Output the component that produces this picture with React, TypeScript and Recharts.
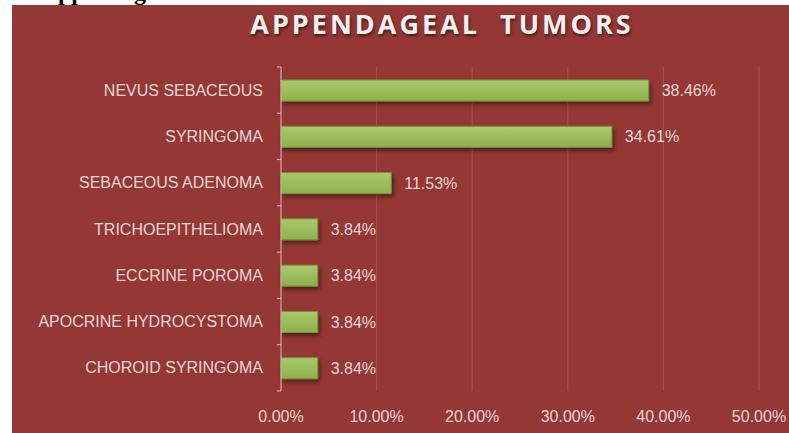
import React from "react";
import {
  BarChart,
  Bar,
  XAxis,
  YAxis,
  CartesianGrid,
  LabelList,
} from "recharts";

const tumorTypes = [
  "NEVUS SEBACEOUS",
  "SYRINGOMA",
  "SEBACEOUS ADENOMA",
  "TRICHOEPITHELIOMA",
  "ECCRINE POROMA",
  "APOCRINE HYDROCYSTOMA",
  "CHOROID SYRINGOMA",
];
const percentages = [38.46, 34.61, 11.53, 3.84, 3.84, 3.84, 3.84];
const xTicks = [0, 10, 20, 30, 40, 50];

const data = tumorTypes.map((name, i) => ({ name, value: percentages[i] }));

const W = 777;
const H = 428;
const margin = { top: 62, right: 30, bottom: 12, left: 0 };
const xAxisHeight = 30;
const plotHeight = H - margin.top - margin.bottom - xAxisHeight;
const step = plotHeight / tumorTypes.length;

const textColor = "#e9d6d5";
const axisColor = "#d8b4b2";

// Excel-style: tick marks sit on the band edges, labels on the band centres
const CategoryTick = ({ x, y, payload, index }: any) => (
  <g>
    <text
      x={x - 18}
      y={y}
      textAnchor="end"
      dominantBaseline="central"
      fill={textColor}
      fontSize={16}
      fontFamily="'Liberation Sans', Arial, sans-serif"
    >
      {payload.value}
    </text>
    <line x1={x - 4} x2={x} y1={y - step / 2} y2={y - step / 2} stroke={axisColor} />
    {index === tumorTypes.length - 1 && (
      <line x1={x - 4} x2={x} y1={y + step / 2} y2={y + step / 2} stroke={axisColor} />
    )}
  </g>
);

export default function App() {
  return (
    <div
      style={{
        position: "fixed",
        left: 0,
        top: 0,
        width: 789,
        height: 433,
        background: "#ffffff",
        overflow: "hidden",
      }}
    >
      <div
        style={{
          position: "absolute",
          left: 20,
          top: -21,
          fontFamily: "'Liberation Serif', serif",
          fontWeight: "bold",
          fontSize: 24,
          color: "#000",
          whiteSpace: "nowrap",
        }}
      >
        of appendageal tumors
      </div>
      <div
        style={{
          position: "absolute",
          left: 12,
          top: 5,
          width: W,
          height: H,
          background: "#953735",
        }}
      >
        <div
          style={{
            position: "absolute",
            left: 0,
            width: 860,
            top: 0,
            textAlign: "center",
            fontFamily: "'Open Sans', sans-serif",
            fontWeight: 700,
            fontSize: 27,
            letterSpacing: 3,
            color: "#f4f0f0",
            textShadow: "1px 2px 3px rgba(0,0,0,0.55)",
            whiteSpace: "pre",
          }}
        >
          {"APPENDAGEAL  TUMORS"}
        </div>
        <BarChart
          width={W}
          height={H}
          data={data}
          layout="vertical"
          margin={margin}
          barSize={21}
        >
          <defs>
            <linearGradient id="barFill" x1="0" y1="0" x2="0" y2="1">
              <stop offset="0%" stopColor="#a9c96c" />
              <stop offset="100%" stopColor="#8fb14c" />
            </linearGradient>
            <filter id="barShadow" x="-10%" y="-30%" width="130%" height="190%">
              <feDropShadow dx="2" dy="3" stdDeviation="2" floodColor="#000" floodOpacity="0.45" />
            </filter>
          </defs>
          <CartesianGrid horizontal={false} stroke="#a9504d" />
          <XAxis
            type="number"
            domain={[0, 50]}
            ticks={xTicks}
            height={xAxisHeight}
            axisLine={false}
            tickLine={false}
            tickMargin={14}
            tick={{
              fill: textColor,
              fontSize: 16,
              fontFamily: "'Liberation Sans', Arial, sans-serif",
            }}
            tickFormatter={(v: number) => `${v.toFixed(2)}%`}
          />
          <YAxis
            type="category"
            dataKey="name"
            width={269}
            axisLine={{ stroke: axisColor }}
            tickLine={false}
            tickSize={0}
            tickMargin={0}
            tick={<CategoryTick />}
            interval={0}
          />
          <Bar
            dataKey="value"
            fill="url(#barFill)"
            stroke="#76933c"
            strokeWidth={1}
            filter="url(#barShadow)"
            isAnimationActive={false}
          >
            <LabelList
              dataKey="value"
              position="right"
              offset={13}
              fill={textColor}
              fontSize={16}
              fontFamily="'Liberation Sans', Arial, sans-serif"
              formatter={(v: any) => `${Number(v).toFixed(2)}%`}
            />
          </Bar>
        </BarChart>
      </div>
    </div>
  );
}
